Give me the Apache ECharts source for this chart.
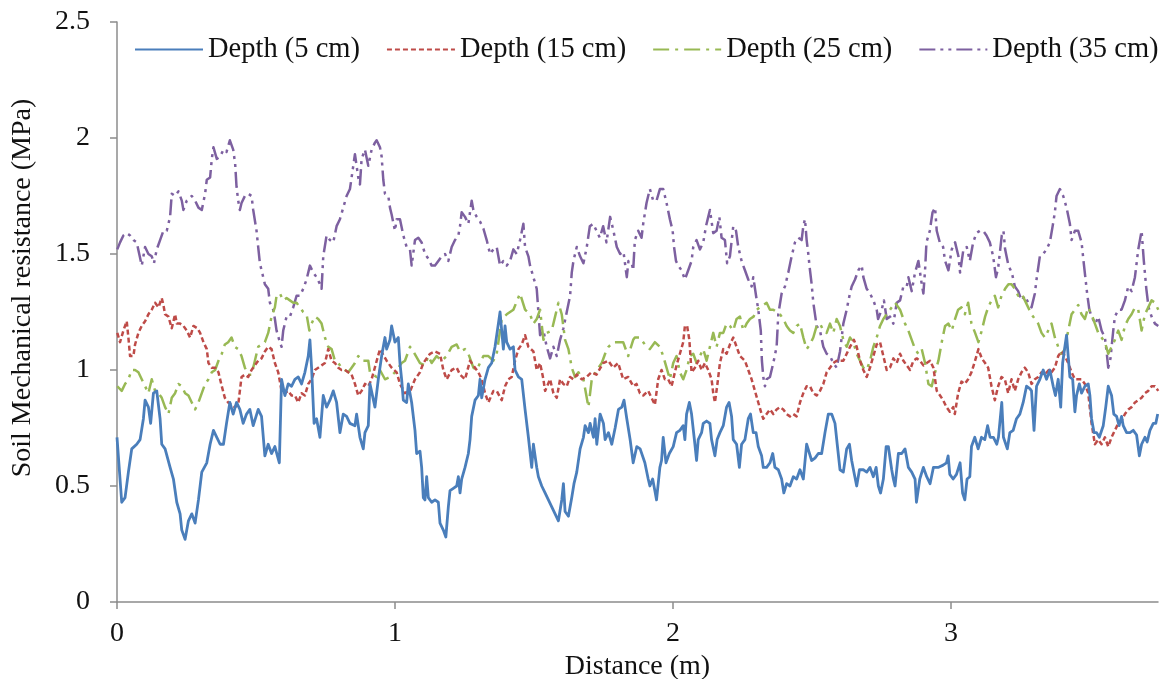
<!DOCTYPE html>
<html>
<head>
<meta charset="utf-8">
<script src="https://cdn.jsdelivr.net/npm/echarts@6/dist/echarts.min.js"></script>
<style>html,body{margin:0;padding:0;background:#fff}#chart{width:1168px;height:679px}</style>
</head>
<body>
<div id="chart"></div>
<script>
// Series names
const seriesNames = ['Depth (5 cm)', 'Depth (15 cm)', 'Depth (25 cm)', 'Depth (35 cm)'];
// Axis ticks
const yTicks = [0, 0.5, 1, 1.5, 2, 2.5];
const xTicks = [0, 1, 2, 3];
const xMax = 3.745;

// [distance (m), resistance (MPa)]
const depth5 = [
[0.000,0.71],[0.017,0.43],[0.029,0.45],[0.041,0.56],[0.053,0.66],[0.071,0.68],[0.083,0.70],[0.095,0.79],[0.101,0.87],[0.113,0.84],
[0.121,0.77],[0.131,0.90],[0.143,0.91],[0.155,0.79],[0.161,0.68],[0.173,0.66],[0.191,0.58],[0.203,0.53],[0.215,0.43],[0.227,0.38],
[0.233,0.31],[0.245,0.27],[0.257,0.35],[0.269,0.38],[0.281,0.34],[0.293,0.44],[0.305,0.56],[0.323,0.60],[0.335,0.68],[0.347,0.74],
[0.359,0.71],[0.371,0.68],[0.383,0.68],[0.394,0.77],[0.406,0.86],[0.418,0.81],[0.430,0.86],[0.442,0.83],[0.454,0.77],[0.466,0.81],
[0.478,0.83],[0.490,0.76],[0.508,0.83],[0.520,0.80],[0.532,0.63],[0.544,0.68],[0.556,0.64],[0.568,0.67],[0.584,0.60],[0.592,0.96],
[0.604,0.89],[0.616,0.94],[0.628,0.93],[0.640,0.96],[0.652,0.97],[0.664,0.94],[0.676,0.99],[0.688,1.06],[0.694,1.13],[0.700,1.01],
[0.709,0.77],[0.718,0.79],[0.730,0.71],[0.742,0.89],[0.754,0.84],[0.766,0.87],[0.778,0.91],[0.790,0.86],[0.802,0.73],[0.814,0.81],
[0.826,0.80],[0.838,0.77],[0.856,0.76],[0.862,0.81],[0.874,0.71],[0.886,0.66],[0.892,0.73],[0.904,0.76],[0.910,0.94],[0.928,0.84],
[0.940,0.96],[0.952,1.06],[0.964,1.14],[0.970,1.09],[0.982,1.13],[0.988,1.19],[1.000,1.12],[1.012,1.14],[1.018,1.03],[1.024,0.96],
[1.030,0.87],[1.042,0.86],[1.048,0.94],[1.060,0.86],[1.072,0.74],[1.078,0.64],[1.090,0.65],[1.096,0.58],[1.102,0.45],[1.108,0.44],
[1.114,0.54],[1.120,0.45],[1.132,0.43],[1.144,0.44],[1.156,0.43],[1.162,0.34],[1.174,0.31],[1.183,0.28],[1.192,0.41],[1.198,0.48],
[1.210,0.49],[1.222,0.50],[1.228,0.54],[1.234,0.47],[1.240,0.53],[1.252,0.58],[1.264,0.64],[1.270,0.70],[1.276,0.80],[1.288,0.87],
[1.300,0.89],[1.306,0.96],[1.312,0.88],[1.324,0.96],[1.336,1.01],[1.348,1.03],[1.360,1.10],[1.372,1.20],[1.378,1.25],[1.384,1.17],
[1.390,1.09],[1.396,1.19],[1.402,1.12],[1.414,1.09],[1.426,1.10],[1.432,1.00],[1.444,0.97],[1.456,0.96],[1.468,0.83],[1.480,0.71],
[1.492,0.58],[1.498,0.68],[1.510,0.58],[1.516,0.54],[1.528,0.50],[1.540,0.47],[1.552,0.44],[1.564,0.41],[1.576,0.38],[1.588,0.35],
[1.600,0.44],[1.606,0.51],[1.612,0.39],[1.624,0.37],[1.636,0.45],[1.644,0.51],[1.654,0.56],[1.666,0.66],[1.678,0.71],[1.684,0.76],
[1.696,0.73],[1.702,0.77],[1.714,0.71],[1.720,0.79],[1.726,0.68],[1.738,0.81],[1.750,0.77],[1.756,0.70],[1.768,0.73],[1.780,0.68],
[1.792,0.75],[1.804,0.83],[1.816,0.84],[1.824,0.87],[1.834,0.79],[1.846,0.70],[1.857,0.60],[1.870,0.67],[1.882,0.66],[1.899,0.60],
[1.911,0.53],[1.917,0.50],[1.927,0.53],[1.935,0.48],[1.941,0.44],[1.953,0.58],[1.959,0.61],[1.965,0.71],[1.975,0.60],[1.987,0.64],
[2.001,0.67],[2.013,0.73],[2.025,0.74],[2.037,0.76],[2.043,0.70],[2.049,0.81],[2.059,0.86],[2.067,0.81],[2.079,0.68],[2.085,0.61],
[2.091,0.70],[2.103,0.73],[2.109,0.77],[2.121,0.78],[2.133,0.77],[2.139,0.70],[2.151,0.63],[2.159,0.70],[2.169,0.73],[2.181,0.76],
[2.193,0.84],[2.202,0.86],[2.211,0.80],[2.217,0.70],[2.229,0.68],[2.239,0.58],[2.247,0.68],[2.259,0.70],[2.271,0.79],[2.279,0.81],
[2.289,0.73],[2.299,0.73],[2.307,0.67],[2.319,0.63],[2.325,0.58],[2.337,0.58],[2.349,0.60],[2.359,0.64],[2.367,0.58],[2.379,0.57],
[2.391,0.53],[2.399,0.47],[2.409,0.51],[2.421,0.50],[2.433,0.54],[2.445,0.53],[2.457,0.57],[2.469,0.53],[2.481,0.68],[2.487,0.68],
[2.499,0.61],[2.511,0.62],[2.523,0.64],[2.535,0.64],[2.547,0.73],[2.559,0.81],[2.571,0.81],[2.583,0.77],[2.591,0.68],[2.601,0.57],
[2.613,0.56],[2.625,0.66],[2.635,0.68],[2.643,0.61],[2.651,0.56],[2.661,0.50],[2.671,0.57],[2.685,0.57],[2.697,0.56],[2.709,0.58],
[2.721,0.54],[2.731,0.58],[2.739,0.50],[2.747,0.47],[2.757,0.53],[2.767,0.67],[2.775,0.67],[2.787,0.57],[2.793,0.53],[2.799,0.50],
[2.811,0.64],[2.823,0.64],[2.835,0.66],[2.847,0.58],[2.859,0.56],[2.871,0.53],[2.876,0.43],[2.888,0.53],[2.901,0.58],[2.913,0.54],
[2.925,0.51],[2.937,0.58],[2.954,0.58],[2.972,0.59],[2.984,0.60],[2.990,0.63],[2.996,0.55],[3.008,0.53],[3.020,0.55],[3.033,0.60],
[3.042,0.47],[3.050,0.44],[3.058,0.53],[3.068,0.54],[3.074,0.67],[3.086,0.71],[3.098,0.66],[3.110,0.71],[3.122,0.70],[3.132,0.76],
[3.141,0.71],[3.153,0.71],[3.165,0.68],[3.171,0.71],[3.183,0.86],[3.189,0.71],[3.195,0.71],[3.203,0.66],[3.212,0.73],[3.224,0.74],
[3.236,0.79],[3.248,0.81],[3.260,0.86],[3.272,0.93],[3.284,0.92],[3.290,0.91],[3.299,0.74],[3.308,0.93],[3.320,0.96],[3.332,1.00],
[3.344,0.96],[3.356,1.00],[3.368,0.93],[3.376,0.89],[3.386,0.96],[3.395,0.84],[3.402,1.03],[3.410,1.10],[3.416,1.15],[3.422,1.06],
[3.428,0.97],[3.438,0.96],[3.446,0.82],[3.452,0.89],[3.462,0.94],[3.470,0.90],[3.482,0.93],[3.494,0.94],[3.500,0.89],[3.506,0.79],
[3.515,0.73],[3.524,0.73],[3.534,0.71],[3.548,0.76],[3.557,0.84],[3.566,0.93],[3.578,0.89],[3.586,0.81],[3.596,0.80],[3.605,0.76],
[3.614,0.80],[3.620,0.76],[3.632,0.73],[3.644,0.73],[3.656,0.74],[3.668,0.72],[3.678,0.63],[3.686,0.68],[3.698,0.71],[3.706,0.69],
[3.716,0.74],[3.728,0.77],[3.737,0.77],[3.744,0.81]
];

const depth15 = [
[0.001,1.16],[0.011,1.12],[0.023,1.17],[0.035,1.21],[0.041,1.14],[0.047,1.06],[0.059,1.06],[0.065,1.11],[0.077,1.16],[0.089,1.19],
[0.101,1.21],[0.113,1.24],[0.125,1.26],[0.137,1.29],[0.149,1.27],[0.161,1.31],[0.167,1.28],[0.173,1.24],[0.185,1.23],[0.197,1.18],
[0.209,1.24],[0.215,1.20],[0.227,1.20],[0.239,1.19],[0.251,1.17],[0.263,1.14],[0.275,1.19],[0.289,1.18],[0.299,1.16],[0.311,1.12],
[0.323,1.09],[0.329,1.03],[0.341,1.01],[0.353,1.01],[0.365,0.99],[0.377,0.93],[0.388,0.88],[0.400,0.86],[0.412,0.85],[0.424,0.84],
[0.436,0.85],[0.448,0.97],[0.460,0.98],[0.472,0.97],[0.484,1.00],[0.496,1.02],[0.508,1.04],[0.520,1.05],[0.532,1.08],[0.544,1.10],
[0.556,1.09],[0.568,1.03],[0.580,0.99],[0.592,0.91],[0.604,0.90],[0.616,0.91],[0.628,0.89],[0.640,0.89],[0.652,0.86],[0.664,0.90],
[0.676,0.89],[0.688,0.94],[0.700,0.96],[0.712,1.00],[0.724,1.01],[0.736,1.02],[0.748,1.03],[0.760,1.09],[0.772,1.04],[0.784,1.03],
[0.796,1.01],[0.808,1.00],[0.820,1.00],[0.832,0.99],[0.844,0.98],[0.856,0.94],[0.868,0.89],[0.880,0.91],[0.892,0.94],[0.904,0.93],
[0.916,0.96],[0.946,1.09],[0.970,1.04],[0.988,1.01],[1.006,0.99],[1.018,0.94],[1.036,0.90],[1.055,0.91],[1.072,0.96],[1.090,0.99],
[1.102,1.03],[1.126,1.07],[1.144,1.08],[1.162,1.07],[1.174,1.00],[1.186,0.96],[1.204,1.00],[1.222,1.01],[1.234,0.98],[1.252,0.96],
[1.270,1.04],[1.288,1.01],[1.300,0.99],[1.312,0.96],[1.324,0.90],[1.336,0.86],[1.354,0.91],[1.366,0.91],[1.384,0.87],[1.396,0.93],
[1.408,0.96],[1.420,0.97],[1.432,1.04],[1.444,1.09],[1.456,1.11],[1.468,1.15],[1.480,1.10],[1.498,1.08],[1.510,1.00],[1.522,1.03],
[1.534,0.96],[1.540,0.91],[1.558,0.96],[1.570,0.90],[1.582,0.88],[1.594,0.96],[1.606,0.94],[1.618,0.93],[1.630,0.97],[1.642,0.96],
[1.654,0.98],[1.672,0.96],[1.689,0.97],[1.707,0.99],[1.725,0.98],[1.749,1.03],[1.767,1.04],[1.785,1.01],[1.803,1.03],[1.821,0.96],
[1.839,0.97],[1.857,0.93],[1.869,0.94],[1.881,0.90],[1.893,0.89],[1.911,0.91],[1.923,0.88],[1.935,0.85],[1.947,0.96],[1.959,1.00],
[1.971,0.96],[1.983,0.96],[1.995,0.93],[2.013,1.02],[2.025,1.07],[2.037,1.12],[2.043,1.19],[2.051,1.19],[2.059,1.13],[2.067,0.99],
[2.079,1.01],[2.091,1.04],[2.103,1.00],[2.115,1.03],[2.127,1.00],[2.139,0.96],[2.145,0.90],[2.151,0.86],[2.159,0.93],[2.169,1.03],
[2.181,1.09],[2.193,1.07],[2.205,1.11],[2.217,1.14],[2.229,1.10],[2.241,1.06],[2.259,1.04],[2.271,1.00],[2.283,0.96],[2.295,0.91],
[2.307,0.86],[2.319,0.81],[2.325,0.79],[2.337,0.81],[2.349,0.83],[2.361,0.81],[2.373,0.83],[2.385,0.84],[2.397,0.83],[2.409,0.81],
[2.421,0.80],[2.433,0.81],[2.445,0.80],[2.457,0.86],[2.469,0.90],[2.481,0.93],[2.493,0.93],[2.505,0.90],[2.517,0.89],[2.529,0.91],
[2.541,0.94],[2.553,0.99],[2.565,1.01],[2.577,1.03],[2.589,1.04],[2.601,1.04],[2.613,1.04],[2.625,1.07],[2.637,1.10],[2.651,1.13],
[2.661,1.10],[2.673,1.04],[2.685,1.00],[2.697,0.97],[2.709,1.01],[2.721,1.06],[2.733,1.11],[2.745,1.12],[2.757,1.06],[2.769,1.00],
[2.781,1.01],[2.793,1.05],[2.805,1.03],[2.817,1.07],[2.829,1.04],[2.841,1.02],[2.853,1.00],[2.865,1.04],[2.877,1.05],[2.889,1.04],
[2.901,1.02],[2.913,1.03],[2.925,1.04],[2.937,1.01],[2.943,0.96],[2.949,0.91],[2.961,0.89],[2.972,0.87],[2.984,0.84],[2.996,0.82],
[3.008,0.84],[3.014,0.81],[3.026,0.90],[3.038,0.95],[3.050,0.94],[3.062,0.96],[3.074,0.99],[3.087,1.04],[3.099,1.09],[3.111,1.05],
[3.123,1.03],[3.134,1.01],[3.146,0.93],[3.158,0.87],[3.170,0.93],[3.182,0.97],[3.194,0.96],[3.206,0.90],[3.218,0.96],[3.230,0.91],
[3.242,0.96],[3.254,0.99],[3.266,1.01],[3.278,0.99],[3.290,0.94],[3.302,0.96],[3.314,0.97],[3.326,0.99],[3.338,0.98],[3.352,1.00],
[3.362,0.99],[3.374,1.01],[3.386,1.06],[3.398,1.08],[3.410,1.06],[3.422,1.03],[3.434,0.99],[3.446,0.96],[3.458,0.96],[3.470,0.96],
[3.482,0.94],[3.494,0.90],[3.506,0.77],[3.518,0.68],[3.530,0.70],[3.542,0.68],[3.554,0.71],[3.566,0.67],[3.578,0.71],[3.590,0.74],
[3.602,0.77],[3.614,0.78],[3.626,0.81],[3.638,0.83],[3.650,0.84],[3.662,0.86],[3.674,0.87],[3.686,0.88],[3.698,0.90],[3.710,0.91],
[3.722,0.93],[3.734,0.93],[3.746,0.91]
];

const depth25 = [
[0.001,0.93],[0.017,0.91],[0.029,0.94],[0.041,0.96],[0.053,1.00],[0.065,1.00],[0.077,0.99],[0.089,0.96],[0.101,0.93],[0.113,0.90],
[0.125,0.96],[0.137,0.91],[0.149,0.90],[0.161,0.88],[0.173,0.84],[0.185,0.81],[0.197,0.88],[0.209,0.90],[0.221,0.94],[0.233,0.93],
[0.245,0.90],[0.257,0.89],[0.269,0.86],[0.281,0.83],[0.293,0.86],[0.305,0.90],[0.317,0.94],[0.329,0.96],[0.341,0.99],[0.353,1.00],
[0.365,1.04],[0.377,1.07],[0.388,1.11],[0.400,1.12],[0.412,1.14],[0.424,1.10],[0.436,1.09],[0.448,1.06],[0.460,1.01],[0.472,0.98],
[0.484,0.98],[0.496,1.04],[0.508,1.10],[0.520,1.11],[0.532,1.12],[0.544,1.16],[0.556,1.23],[0.568,1.27],[0.574,1.32],[0.586,1.33],
[0.598,1.30],[0.610,1.31],[0.622,1.30],[0.634,1.29],[0.646,1.29],[0.658,1.27],[0.670,1.25],[0.682,1.24],[0.692,1.17],[0.700,1.20],
[0.712,1.23],[0.724,1.22],[0.736,1.20],[0.748,1.14],[0.760,1.10],[0.772,1.09],[0.784,1.04],[0.796,1.03],[0.808,1.01],[0.820,1.00],
[0.832,0.99],[0.844,1.01],[0.856,1.03],[0.868,1.06],[0.880,1.04],[0.892,1.04],[0.904,1.04],[0.910,0.99],[0.934,0.97],[0.946,1.00],
[0.964,0.96],[0.982,0.97],[1.000,0.99],[1.012,1.01],[1.024,1.03],[1.036,1.04],[1.054,1.10],[1.066,1.08],[1.090,1.03],[1.108,1.02],
[1.120,1.06],[1.132,1.03],[1.150,1.06],[1.168,1.04],[1.186,1.06],[1.204,1.10],[1.222,1.11],[1.234,1.08],[1.252,1.09],[1.264,1.07],
[1.282,1.01],[1.294,1.00],[1.306,1.03],[1.318,1.06],[1.336,1.06],[1.354,1.04],[1.366,1.07],[1.384,1.22],[1.402,1.24],[1.426,1.26],
[1.450,1.33],[1.468,1.26],[1.486,1.24],[1.498,1.20],[1.510,1.22],[1.522,1.26],[1.534,1.13],[1.546,1.16],[1.564,1.17],[1.576,1.23],
[1.588,1.29],[1.600,1.24],[1.612,1.13],[1.624,1.09],[1.636,1.01],[1.648,0.97],[1.660,0.99],[1.678,0.96],[1.696,0.84],[1.708,0.96],
[1.726,1.00],[1.744,1.03],[1.756,1.07],[1.768,1.10],[1.786,1.12],[1.803,1.12],[1.821,1.12],[1.839,1.06],[1.857,1.13],[1.863,1.14],
[1.881,1.14],[1.899,1.11],[1.917,1.09],[1.935,1.12],[1.953,1.10],[1.965,1.06],[1.977,1.01],[1.989,0.96],[2.001,1.03],[2.013,1.06],
[2.025,0.99],[2.037,0.96],[2.049,1.00],[2.061,1.06],[2.073,1.07],[2.085,1.03],[2.097,1.06],[2.109,1.09],[2.121,1.04],[2.133,1.10],
[2.145,1.16],[2.157,1.10],[2.169,1.16],[2.181,1.16],[2.193,1.20],[2.205,1.19],[2.217,1.17],[2.229,1.22],[2.241,1.23],[2.253,1.17],
[2.265,1.20],[2.277,1.22],[2.290,1.23],[2.302,1.26],[2.313,1.27],[2.325,1.28],[2.337,1.29],[2.349,1.26],[2.361,1.26],[2.373,1.25],
[2.385,1.24],[2.397,1.22],[2.409,1.19],[2.421,1.17],[2.433,1.16],[2.445,1.19],[2.457,1.20],[2.469,1.14],[2.481,1.09],[2.493,1.11],
[2.505,1.14],[2.517,1.19],[2.529,1.20],[2.541,1.17],[2.553,1.16],[2.565,1.20],[2.577,1.16],[2.589,1.22],[2.601,1.19],[2.613,1.13],
[2.625,1.10],[2.637,1.14],[2.649,1.12],[2.661,1.07],[2.673,1.04],[2.685,1.01],[2.697,1.00],[2.709,1.04],[2.721,1.10],[2.733,1.14],
[2.745,1.19],[2.757,1.22],[2.769,1.24],[2.781,1.26],[2.799,1.29],[2.817,1.26],[2.835,1.20],[2.847,1.17],[2.859,1.13],[2.871,1.09],
[2.883,1.07],[2.895,1.09],[2.907,1.03],[2.919,0.94],[2.931,0.93],[2.943,0.99],[2.955,1.04],[2.967,1.12],[2.979,1.19],[2.991,1.20],
[3.003,1.17],[3.015,1.22],[3.026,1.26],[3.038,1.27],[3.050,1.24],[3.062,1.29],[3.074,1.20],[3.087,1.16],[3.099,1.12],[3.111,1.17],
[3.123,1.23],[3.134,1.27],[3.146,1.30],[3.158,1.32],[3.170,1.27],[3.182,1.32],[3.195,1.35],[3.207,1.37],[3.218,1.37],[3.230,1.35],
[3.242,1.32],[3.254,1.33],[3.266,1.30],[3.278,1.27],[3.290,1.24],[3.302,1.22],[3.314,1.20],[3.326,1.16],[3.338,1.14],[3.350,1.17],
[3.362,1.20],[3.374,1.14],[3.386,1.10],[3.398,1.07],[3.410,1.09],[3.422,1.17],[3.434,1.24],[3.446,1.26],[3.458,1.28],[3.470,1.24],
[3.482,1.22],[3.494,1.27],[3.506,1.24],[3.518,1.20],[3.530,1.16],[3.542,1.14],[3.554,1.12],[3.566,1.07],[3.578,1.10],[3.590,1.13],
[3.602,1.17],[3.614,1.13],[3.626,1.19],[3.638,1.22],[3.650,1.24],[3.662,1.27],[3.674,1.26],[3.686,1.17],[3.698,1.24],[3.710,1.27],
[3.722,1.30],[3.734,1.29],[3.746,1.26]
];

const depth35 = [
[0.001,1.52],[0.011,1.55],[0.023,1.58],[0.035,1.59],[0.047,1.58],[0.059,1.56],[0.071,1.55],[0.080,1.50],[0.089,1.45],[0.101,1.53],
[0.113,1.50],[0.125,1.49],[0.133,1.46],[0.143,1.52],[0.155,1.56],[0.167,1.60],[0.179,1.60],[0.191,1.66],[0.197,1.76],[0.209,1.75],
[0.221,1.77],[0.233,1.73],[0.239,1.69],[0.251,1.73],[0.269,1.75],[0.281,1.73],[0.293,1.70],[0.305,1.69],[0.317,1.76],[0.323,1.82],
[0.335,1.83],[0.341,1.91],[0.347,1.96],[0.359,1.91],[0.371,1.92],[0.383,1.95],[0.394,1.94],[0.406,1.99],[0.418,1.95],[0.425,1.89],
[0.430,1.79],[0.436,1.73],[0.442,1.69],[0.448,1.72],[0.460,1.75],[0.472,1.76],[0.484,1.75],[0.490,1.69],[0.502,1.60],[0.508,1.53],
[0.514,1.46],[0.526,1.40],[0.532,1.37],[0.544,1.35],[0.550,1.29],[0.562,1.26],[0.568,1.22],[0.574,1.17],[0.586,1.12],[0.592,1.10],
[0.598,1.17],[0.610,1.23],[0.622,1.23],[0.634,1.27],[0.646,1.32],[0.658,1.32],[0.670,1.35],[0.682,1.39],[0.694,1.45],[0.706,1.42],
[0.718,1.40],[0.730,1.37],[0.736,1.35],[0.742,1.49],[0.754,1.58],[0.766,1.56],[0.778,1.55],[0.790,1.62],[0.802,1.65],[0.814,1.70],
[0.826,1.75],[0.838,1.78],[0.850,1.88],[0.856,1.93],[0.868,1.83],[0.874,1.80],[0.880,1.91],[0.892,1.95],[0.904,1.88],[0.916,1.95],
[0.928,1.98],[0.934,1.99],[0.946,1.96],[0.952,1.92],[0.958,1.82],[0.964,1.76],[0.976,1.75],[0.982,1.70],[0.988,1.67],[1.000,1.60],
[1.006,1.65],[1.018,1.65],[1.030,1.58],[1.042,1.53],[1.054,1.52],[1.060,1.45],[1.072,1.56],[1.084,1.57],[1.096,1.55],[1.108,1.50],
[1.120,1.48],[1.132,1.45],[1.144,1.45],[1.156,1.47],[1.168,1.49],[1.180,1.50],[1.192,1.47],[1.204,1.53],[1.216,1.56],[1.228,1.58],
[1.234,1.62],[1.240,1.68],[1.252,1.66],[1.264,1.63],[1.276,1.73],[1.282,1.69],[1.294,1.66],[1.306,1.64],[1.318,1.61],[1.330,1.56],
[1.342,1.50],[1.354,1.52],[1.366,1.53],[1.378,1.45],[1.390,1.47],[1.402,1.45],[1.414,1.47],[1.426,1.52],[1.438,1.50],[1.450,1.56],
[1.462,1.63],[1.468,1.53],[1.480,1.49],[1.486,1.45],[1.498,1.40],[1.510,1.35],[1.522,1.15],[1.534,1.17],[1.546,1.10],[1.558,1.05],
[1.570,1.10],[1.582,1.06],[1.594,1.13],[1.606,1.18],[1.618,1.25],[1.630,1.32],[1.636,1.42],[1.642,1.47],[1.654,1.53],[1.666,1.49],
[1.678,1.46],[1.690,1.53],[1.701,1.62],[1.713,1.63],[1.725,1.60],[1.737,1.57],[1.749,1.62],[1.761,1.55],[1.774,1.66],[1.786,1.60],
[1.798,1.53],[1.810,1.50],[1.822,1.51],[1.834,1.40],[1.840,1.47],[1.852,1.46],[1.857,1.43],[1.863,1.56],[1.875,1.60],[1.887,1.57],
[1.893,1.63],[1.905,1.72],[1.917,1.78],[1.929,1.73],[1.941,1.73],[1.953,1.78],[1.965,1.78],[1.977,1.72],[1.989,1.65],[1.999,1.60],
[2.004,1.53],[2.011,1.47],[2.019,1.45],[2.031,1.43],[2.043,1.39],[2.055,1.43],[2.067,1.47],[2.073,1.53],[2.085,1.56],[2.097,1.52],
[2.109,1.55],[2.119,1.62],[2.127,1.66],[2.133,1.69],[2.145,1.59],[2.157,1.60],[2.167,1.66],[2.175,1.57],[2.187,1.56],[2.195,1.46],
[2.205,1.49],[2.217,1.62],[2.227,1.60],[2.235,1.53],[2.247,1.47],[2.259,1.43],[2.271,1.39],[2.283,1.36],[2.289,1.40],[2.299,1.32],
[2.307,1.26],[2.316,1.17],[2.320,1.04],[2.325,0.97],[2.331,0.93],[2.337,0.96],[2.349,0.97],[2.361,1.03],[2.373,1.10],[2.379,1.24],
[2.391,1.33],[2.403,1.36],[2.415,1.42],[2.427,1.49],[2.439,1.55],[2.451,1.57],[2.463,1.56],[2.469,1.62],[2.475,1.65],[2.481,1.56],
[2.487,1.50],[2.493,1.43],[2.499,1.37],[2.505,1.29],[2.517,1.19],[2.529,1.17],[2.541,1.10],[2.553,1.07],[2.565,1.06],[2.577,1.03],
[2.589,1.01],[2.601,1.08],[2.607,1.14],[2.613,1.20],[2.625,1.26],[2.635,1.32],[2.643,1.36],[2.655,1.39],[2.667,1.43],[2.679,1.45],
[2.685,1.40],[2.697,1.35],[2.709,1.33],[2.721,1.30],[2.733,1.26],[2.738,1.22],[2.751,1.26],[2.759,1.30],[2.769,1.22],[2.781,1.23],
[2.793,1.20],[2.805,1.29],[2.817,1.30],[2.829,1.36],[2.841,1.36],[2.847,1.40],[2.859,1.34],[2.871,1.42],[2.883,1.47],[2.895,1.37],
[2.901,1.33],[2.907,1.43],[2.912,1.55],[2.924,1.60],[2.934,1.68],[2.943,1.70],[2.949,1.60],[2.960,1.55],[2.972,1.53],[2.979,1.47],
[2.991,1.43],[3.003,1.52],[3.015,1.55],[3.027,1.49],[3.033,1.42],[3.045,1.52],[3.057,1.53],[3.068,1.47],[3.080,1.55],[3.092,1.59],
[3.104,1.60],[3.116,1.60],[3.128,1.58],[3.140,1.55],[3.152,1.49],[3.162,1.40],[3.170,1.44],[3.183,1.58],[3.189,1.60],[3.195,1.52],
[3.207,1.45],[3.219,1.42],[3.230,1.36],[3.242,1.34],[3.254,1.30],[3.266,1.32],[3.278,1.29],[3.290,1.27],[3.302,1.33],[3.308,1.39],
[3.320,1.49],[3.332,1.50],[3.344,1.52],[3.356,1.55],[3.366,1.62],[3.374,1.68],[3.380,1.75],[3.392,1.78],[3.404,1.75],[3.416,1.70],
[3.428,1.63],[3.434,1.56],[3.446,1.60],[3.458,1.60],[3.470,1.55],[3.478,1.46],[3.490,1.33],[3.498,1.26],[3.506,1.23],[3.520,1.20],
[3.530,1.23],[3.542,1.17],[3.554,1.14],[3.560,1.08],[3.566,1.01],[3.574,1.05],[3.584,1.17],[3.590,1.23],[3.602,1.26],[3.614,1.26],
[3.626,1.30],[3.638,1.36],[3.650,1.34],[3.662,1.40],[3.674,1.52],[3.686,1.60],[3.694,1.47],[3.703,1.35],[3.711,1.27],[3.722,1.23],
[3.734,1.20],[3.746,1.19]
];

const seriesData = [depth5, depth15, depth25, depth35];
const seriesColors = ['#4A7EBB', '#BE4B48', '#98B954', '#7D60A0'];
const seriesDash = ['solid', [5, 3], [16, 6, 3, 6], [16, 5, 3, 5, 3, 5]];
const seriesWidth = [2.8, 2.5, 2.5, 2.5];

const FONT = "'Liberation Serif', 'Times New Roman', serif";
const chart = echarts.init(document.getElementById('chart'), null, { renderer: 'canvas' });
chart.setOption({
  animation: false,
  backgroundColor: '#ffffff',
  textStyle: { fontFamily: FONT },
  grid: { left: 117, right: 10, top: 22, bottom: 77, containLabel: false, outerBoundsMode: 'none' },
  legend: {
    left: 134, top: 35, padding: 0, width: 1030,
    itemWidth: 68, itemHeight: 14, itemGap: 26,
    itemStyle: { color: 'rgba(0,0,0,0)', borderWidth: 0, opacity: 0 },
    textStyle: { fontFamily: FONT, fontSize: 28.5, color: '#111' },
    data: seriesNames
  },
  xAxis: {
    type: 'value', min: 0, max: xMax, interval: 1,
    name: 'Distance (m)', nameLocation: 'middle', nameGap: 48,
    nameTextStyle: { fontFamily: FONT, fontSize: 28, color: '#111' },
    axisLine: { onZero: false, lineStyle: { color: '#8c8c8c', width: 1.5 } },
    axisTick: { show: true, length: 7, customValues: xTicks, lineStyle: { color: '#8c8c8c', width: 1.5 } },
    axisLabel: { fontFamily: FONT, fontSize: 28, color: '#111', margin: 18, customValues: xTicks },
    splitLine: { show: false }
  },
  yAxis: {
    type: 'value', min: 0, max: 2.5, interval: 0.5,
    name: 'Soil Mechanical resistance (MPa)', nameLocation: 'middle', nameGap: 80,
    nameTextStyle: { fontFamily: FONT, fontSize: 28, color: '#111', padding: [0, 0, 0, 48] },
    axisLine: { show: true, lineStyle: { color: '#8c8c8c', width: 1.5 } },
    axisTick: { show: true, length: 7, customValues: yTicks, lineStyle: { color: '#8c8c8c', width: 1.5 } },
    axisLabel: { fontFamily: FONT, fontSize: 28, color: '#111', margin: 27, customValues: yTicks },
    splitLine: { show: false }
  },
  series: seriesNames.map((name, i) => ({
    name: name,
    type: 'line',
    data: seriesData[i],
    symbol: 'none',
    showSymbol: false,
    smooth: false,
    lineStyle: { color: seriesColors[i], width: seriesWidth[i], type: seriesDash[i], cap: 'butt', join: 'round' },
    itemStyle: { color: seriesColors[i] },
    z: 10 - i
  }))
});
</script>
</body>
</html>
